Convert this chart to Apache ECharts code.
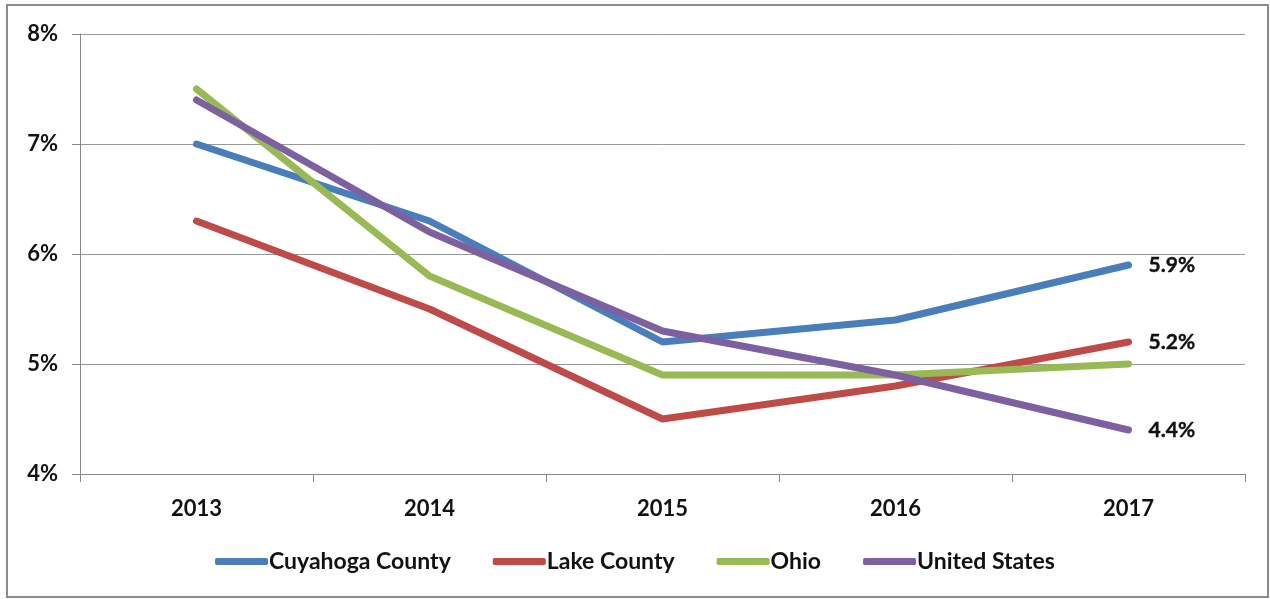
<!DOCTYPE html>
<html>
<head>
<meta charset="utf-8">
<script src="https://cdn.jsdelivr.net/npm/echarts@6/dist/echarts.min.js"></script>
<style>
  html, body { margin: 0; padding: 0; background: #fff; }
  #main { width: 1270px; height: 599px; }
</style>
</head>
<body>
<div id="main"></div>
<script>
var years = ['2013', '2014', '2015', '2016', '2017'];
var cuyahoga = [7.0, 6.3, 5.2, 5.4, 5.9];
var lake = [6.3, 5.5, 4.5, 4.8, 5.2];
var ohio = [7.5, 5.8, 4.9, 4.9, 5.0];
var usa = [7.4, 6.2, 5.3, 4.9, 4.4];

var font = 'Lato, "Open Sans", sans-serif';

// value label only on the last point of a series
function withEndLabel(arr) {
  return arr.map(function (v, i) {
    if (i !== arr.length - 1) return v;
    return { value: v, label: { show: true } };
  });
}

function mkSeries(name, arr, color, labelled) {
  return {
    name: name,
    type: 'line',
    data: labelled ? withEndLabel(arr) : arr,
    symbol: 'circle',
    symbolSize: 0.1,
    showSymbol: true,
    label: {
      show: false, position: 'right', distance: 20,
      formatter: function (p) { return p.value.toFixed(1) + '%'; },
      fontSize: 21, fontWeight: 'bold', fontFamily: font,
      color: '#111', textBorderColor: '#111', textBorderWidth: 0.4
    },
    lineStyle: { width: 7, color: color, cap: 'round', join: 'round' },
    itemStyle: { color: color },
    animation: false
  };
}

var chart = echarts.init(document.getElementById('main'));
chart.setOption({
  graphic: [{
    type: 'rect',
    shape: { x: 7, y: 5, width: 1261, height: 592 },
    style: { fill: 'none', stroke: '#8c8c8c', lineWidth: 2 },
    silent: true
  }],
  grid: { left: 80, right: 25, top: 34, bottom: 125 },
  legend: {
    top: 545,
    left: 'center',
    itemWidth: 53,
    itemHeight: 7,
    itemGap: 42,
    icon: 'roundRect',
    textStyle: { fontSize: 23, fontWeight: 'bold', color: '#111', fontFamily: font, padding: [0, 0, 0, -4] },
    data: ['Cuyahoga County', 'Lake County', 'Ohio', 'United States']
  },
  xAxis: {
    type: 'category',
    data: years,
    boundaryGap: true,
    axisLine: { lineStyle: { color: '#888', width: 1 } },
    axisTick: { show: true, length: 8, lineStyle: { color: '#888' } },
    axisLabel: { fontSize: 22, fontWeight: 'bold', color: '#111', margin: 24, fontFamily: font }
  },
  yAxis: {
    type: 'value',
    min: 4, max: 8, interval: 1,
    axisLine: { show: true, lineStyle: { color: '#888', width: 1 } },
    axisTick: { show: true, length: 8, lineStyle: { color: '#888' } },
    splitLine: { lineStyle: { color: '#999', width: 1 } },
    axisLabel: { formatter: '{value}%', fontSize: 22, fontWeight: 'bold', color: '#111', margin: 22, fontFamily: font }
  },
  series: [
    mkSeries('Cuyahoga County', cuyahoga, '#4a7ebb', true),
    mkSeries('Lake County', lake, '#be4b48', true),
    mkSeries('Ohio', ohio, '#98b954', false),
    mkSeries('United States', usa, '#7d60a0', true)
  ]
});
</script>
</body>
</html>
